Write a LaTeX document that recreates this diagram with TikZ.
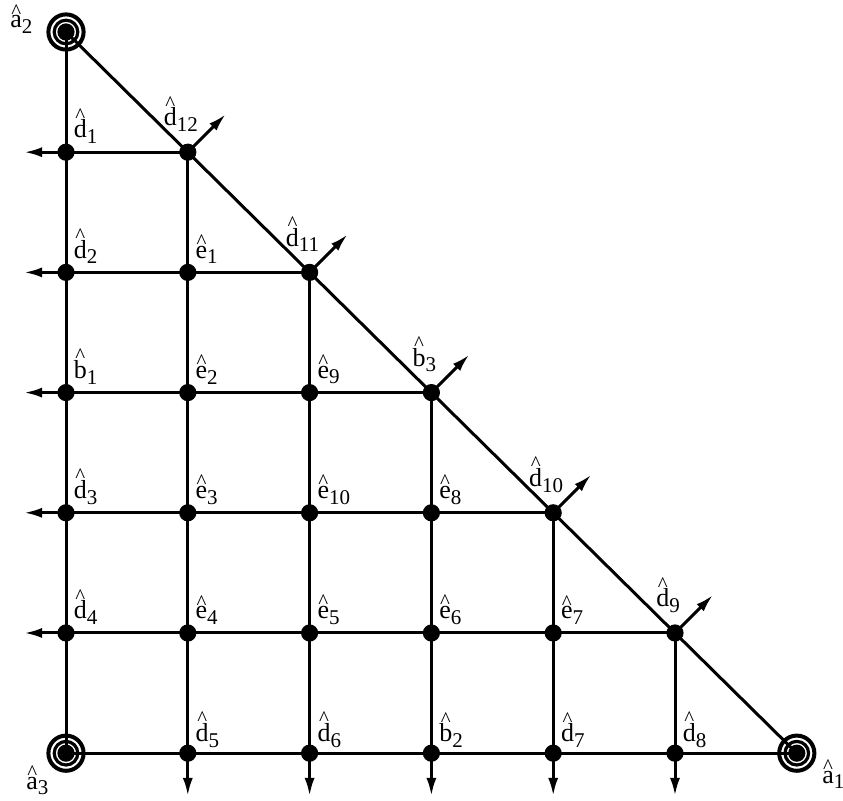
\documentclass[tikz,border=0pt]{standalone}
\usepackage{fontspec}
\setmainfont{Liberation Serif}
\usetikzlibrary{arrows.meta}
\newsavebox{\hbx}
\newcommand{\hatl}[1]{\sbox{\hbx}{#1}\mbox{\rlap{\hbox to \wd\hbx{\hss\raisebox{\dimexpr\ht\hbx-0.1em\relax}{\fontsize{10.5}{12}\selectfont\textasciicircum}\hss}}\usebox{\hbx}}}
\newcommand{\lb}[2]{\hatl{#1}\raisebox{-0.22em}{\fontsize{10.5}{12}\selectfont #2}}
\begin{document}
\begin{tikzpicture}[x=0.5pt,y=-0.5pt,line width=1.5pt,
  dot/.style={circle,fill=black,inner sep=0pt,minimum size=8.6pt},
  cdot/.style={circle,fill=black,inner sep=0pt,minimum size=7.4pt},
  arr/.style={-{Latex[length=9pt,width=5pt]}},
  lab/.style={inner sep=0pt,font=\fontsize{13}{15}\selectfont},
  ilab/.style={lab,anchor=south west},
  dlab/.style={lab,anchor=south}]
\useasboundingbox (0,0) rectangle (843,801);
% grid points
\foreach \i in {0,...,6}{
  \foreach \j in {\i,...,6}{
    \coordinate (p\i\j) at ({66+121.8*\i},{32+120.2*\j});
  }
}
% corner rings
\foreach \c in {p00,p06,p66}{
  \draw[line width=2pt] (\c) circle[radius=8.8pt];
  \draw[line width=1.6pt] (\c) circle[radius=5.9pt];
}
% lines
\foreach \i in {0,...,5}{ \draw (p\i\i) -- (p\i6); }
\foreach \j in {1,...,6}{ \draw (p0\j) -- (p\j\j); }
\draw (p00) -- (p66);
% dots
\foreach \i in {0,...,6}{
  \foreach \j in {\i,...,6}{
    \node[dot] (n\i\j) at (p\i\j) {};
  }
}
\node[cdot] (c00) at (p00) {};
\node[cdot] (c06) at (p06) {};
\node[cdot] (c66) at (p66) {};
% arrows
\foreach \j in {1,...,5}{
  \coordinate (L\j) at (24,{32+120.2*\j});
  \draw[arr] (n0\j.center) -- (L\j);
}
\foreach \i in {1,...,5}{
  \coordinate (D\i) at ({66+121.8*\i},796);
  \draw[arr] (n\i6.center) -- (D\i);
}
\foreach \k in {1,...,5}{
  \coordinate (U\k) at ({66+121.8*\k+38},{32+120.2*\k-38});
  \draw[arr] (n\k\k.center) -- (U\k);
}
% interior labels
\foreach \n/\l/\s in {01/d/1,02/d/2,03/b/1,04/d/3,05/d/4,
  12/e/1,13/e/2,14/e/3,15/e/4,
  23/e/9,24/e/10,25/e/5,
  34/e/8,35/e/6,
  45/e/7}{
  \node[ilab] (l\n) at ([xshift=3.2pt,yshift=3.5pt]n\n.center) {\lb{\l}{\s}};
}
\foreach \n/\l/\s in {16/d/5,26/d/6,36/b/2,46/d/7,56/d/8}{
  \node[ilab] (l\n) at ([xshift=3.2pt,yshift=2.2pt]n\n.center) {\lb{\l}{\s}};
}
% diagonal labels
\foreach \n/\l/\s in {11/d/12,22/d/11,33/b/3,44/d/10,55/d/9}{
  \node[dlab] (l\n) at ([xshift=-3.5pt,yshift=9.5pt]n\n.center) {\lb{\l}{\s}};
}
% corner labels
\node[lab,anchor=south east] (l00) at ([xshift=-16pt,yshift=-1.5pt]n00.center) {\lb{a}{2}};
\node[lab,anchor=north east] (l06) at ([xshift=-8pt,yshift=-5.5pt]n06.center) {\lb{a}{3}};
\node[lab,anchor=north west] (l66) at ([xshift=12pt,yshift=-2.5pt]n66.center) {\lb{a}{1}};
\end{tikzpicture}
\end{document}
